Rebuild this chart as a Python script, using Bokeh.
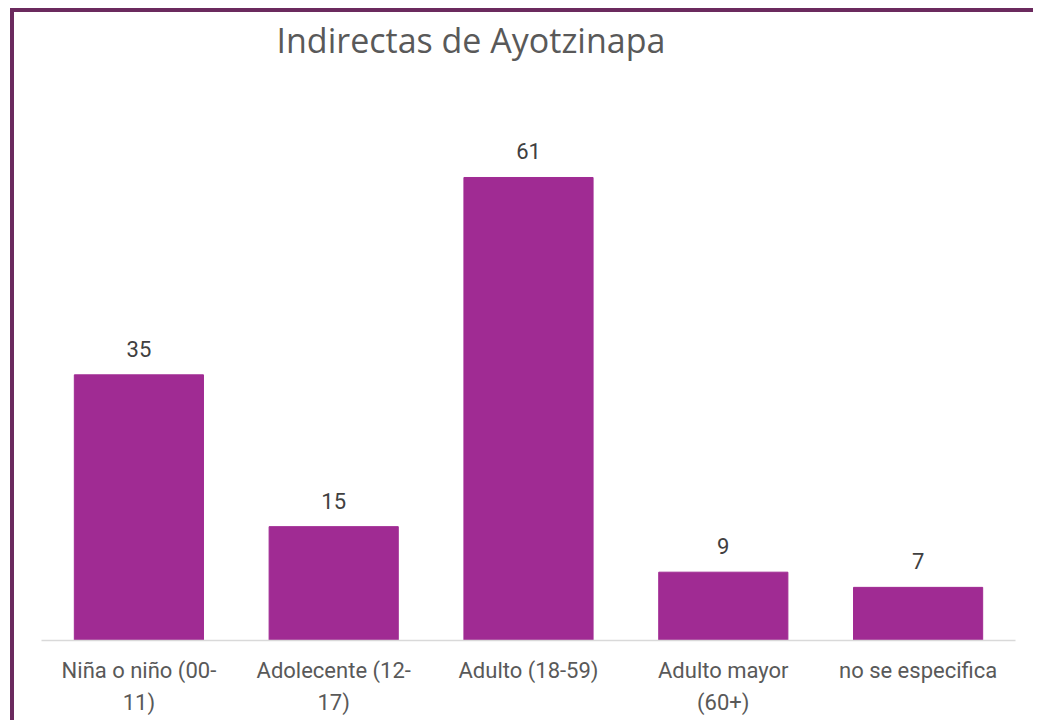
from bokeh.plotting import figure
from bokeh.models import ColumnDataSource, LabelSet, Range1d, CategoricalAxis, CustomJSTickFormatter
from bokeh.core.properties import value
from bokeh.embed import file_html
from bokeh.resources import INLINE

categories = ["Niña o niño (00-11)", "Adolecente (12-17)", "Adulto (18-59)",
              "Adulto mayor (60+)", "no se especifica"]
tick_line1 = ["Niña o niño (00-", "Adolecente (12-", "Adulto (18-59)",
              "Adulto mayor", "no se especifica"]
tick_line2 = ["11)", "17)", "", "(60+)", ""]
values = [35, 15, 61, 9, 7]

FONT = "Roboto"
src = ColumnDataSource(dict(cat=categories, val=values, lab=[str(v) for v in values]))

p = figure(x_range=categories, y_range=Range1d(0, 76.15), width=1023, height=712,
           output_backend="svg", toolbar_location=None,
           min_border_left=27, min_border_right=22, min_border_bottom=84, min_border_top=50,
           styles={"border-left": "4px solid #6b2a5e", "border-top": "4px solid #6b2a5e",
                   "margin-left": "10px", "margin-top": "8px"})
p.title.text = "Indirectas de Ayotzinapa"
p.title.align = "left"
p.title.offset = 235
p.title.text_font = "Open Sans"
p.title.text_font_size = "34px"
p.title.text_font_style = "normal"
p.title.text_color = "#595959"
p.title.standoff = 0

p.vbar(x="cat", top="val", width=0.663, source=src, color="#a02b93")
p.add_layout(LabelSet(x="cat", y="val", text="lab", source=src, y_offset=18,
                      text_align="center", text_baseline="bottom",
                      text_font=value(FONT), text_font_size="22px", text_color="#404040"))

p.yaxis.visible = False
p.xgrid.visible = False
p.ygrid.visible = False
p.outline_line_color = None
p.x_range.range_padding = 0

js = "const i = cats.indexOf(tick); return i >= 0 ? lines[i] : tick;"

ax = p.xaxis[0]
ax.axis_line_color = "#d9d9d9"
ax.axis_line_width = 1.5
ax.major_tick_line_color = None
ax.minor_tick_line_color = None
ax.formatter = CustomJSTickFormatter(args=dict(cats=categories, lines=tick_line1), code=js)
ax.major_label_text_font = FONT
ax.major_label_text_font_size = "22px"
ax.major_label_text_color = "#595959"
ax.major_label_standoff = 11

ax2 = CategoricalAxis(axis_line_color=None, major_tick_line_color=None,
                      minor_tick_line_color=None,
                      formatter=CustomJSTickFormatter(args=dict(cats=categories, lines=tick_line2), code=js),
                      major_label_text_font=FONT, major_label_text_font_size="22px",
                      major_label_text_color="#595959", major_label_standoff=-2)
p.add_layout(ax2, "below")

open("out.html", "w").write(file_html(p, INLINE))
